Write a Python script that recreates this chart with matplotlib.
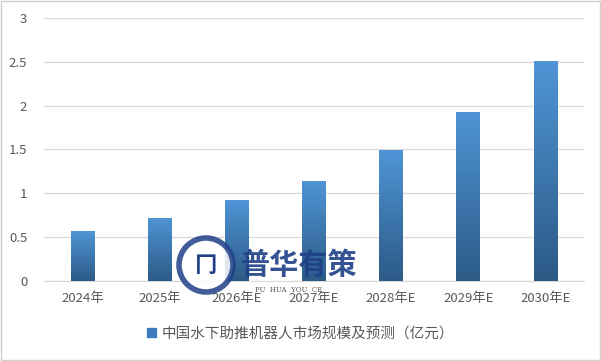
import matplotlib.pyplot as plt
import numpy as np
from matplotlib.patches import Rectangle, Ellipse
from matplotlib.colors import LinearSegmentedColormap

plt.rcParams['font.family'] = ['Noto Sans CJK SC', 'DejaVu Sans']

years = ['2024年', '2025年', '2026年E', '2027年E', '2028年E', '2029年E', '2030年E']
market_size = [0.57, 0.72, 0.92, 1.14, 1.49, 1.93, 2.51]
legend_label = '中国水下助推机器人市场规模及预测（亿元）'

fig = plt.figure(figsize=(6.01, 3.61), dpi=100)
ax = fig.add_axes([0.073, 0.222, 0.899, 0.728])

x = np.arange(len(years))
width = 0.31
bars = ax.bar(x, market_size, width, color='#3b7bbf', zorder=2)

# vertical gradient, lighter at the top
grad = np.linspace(0, 1, 256).reshape(-1, 1)
cmap = LinearSegmentedColormap.from_list('bar', ['#2c5a86', '#4f95d6'])
for b in bars:
    im = ax.imshow(grad, cmap=cmap, origin='lower', aspect='auto',
                   extent=[b.get_x(), b.get_x() + b.get_width(), 0, b.get_height()],
                   zorder=3)
    im.set_clip_path(b)

ax.set_xlim(-0.5, 6.5)
ax.set_ylim(0, 3)
ax.set_yticks([0, 0.5, 1, 1.5, 2, 2.5, 3])
ax.set_yticklabels(['0', '0.5', '1', '1.5', '2', '2.5', '3'])
ax.set_xticks(x)
ax.set_xticklabels(years)
ax.tick_params(length=0, labelsize=9.5, colors='#595959', pad=8)
ax.tick_params(axis='y', pad=12)
ax.grid(axis='y', color='#d9d9d9', linewidth=0.9, zorder=0)
for s in ['top', 'right', 'left']:
    ax.spines[s].set_visible(False)
ax.spines['bottom'].set_color('#d9d9d9')

# legend
leg_handle = Rectangle((0, 0), 1, 1, color='#3b7bbf')
fig.legend([leg_handle], [legend_label], loc='center', bbox_to_anchor=(0.5, 0.075),
           frameon=False, fontsize=10.5, handlelength=0.6, handleheight=0.6,
           handletextpad=0.4, labelcolor='#595959')

# watermark
r = 27 / 601
fig.patches.append(Ellipse((206 / 601, 1 - 265 / 361), 2 * r, 2 * r * 601 / 361,
                           transform=fig.transFigure, facecolor='white',
                           edgecolor='#1f3f86', linewidth=4, alpha=0.85, zorder=5))
fig.text(206 / 601, 1 - 265 / 361, '冂', ha='center', va='center', fontsize=16,
         fontweight='bold', color='#1f3f86', zorder=6)
fig.text(299 / 601, 1 - 265 / 361, '普华有策', ha='center', va='center', fontsize=21,
         fontweight='bold', color='#1f3f86', alpha=0.9, zorder=6)
fig.text(289 / 601, 1 - 290 / 361, 'PU  HUA  YOU  CE', ha='center', va='center', fontsize=5,
         family='DejaVu Serif', color='#555555', zorder=6)

# outer frame
fig.patches.append(Rectangle((0.002, 0.003), 0.996, 0.994, transform=fig.transFigure,
                             fill=False, edgecolor='#d0d0d0', linewidth=1))

fig.savefig('out.png', dpi=100)
